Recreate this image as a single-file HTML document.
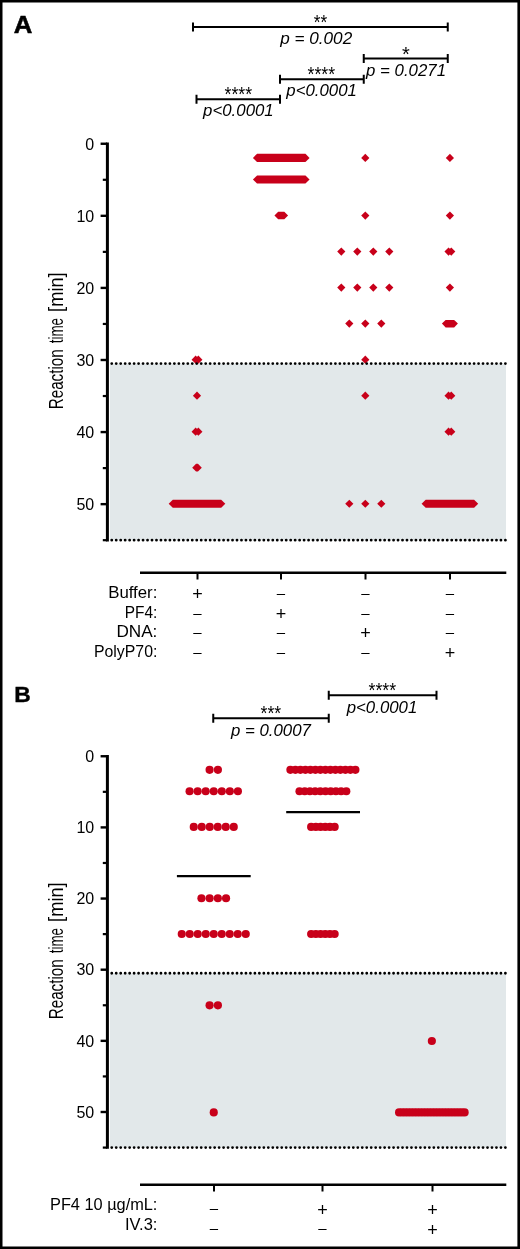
<!DOCTYPE html>
<html lang="en"><head><meta charset="utf-8"><title>Figure</title>
<style>
html,body{margin:0;padding:0;background:#fff;}
body{width:520px;height:1249px;overflow:hidden;}
svg{display:block;}
text{font-family:"Liberation Sans",sans-serif;fill:#000;}
.it{font-style:italic;}
.b{font-weight:bold;}
</style></head><body>
<svg width="520" height="1249" viewBox="0 0 520 1249">
<rect x="0" y="0" width="520" height="1249" fill="#fff"/>
<rect x="110" y="363.59" width="396" height="176.60" fill="#e2e8ea"/>
<path d="M107.4 142.55V541.39" stroke="#000" stroke-width="3" fill="none"/>
<path d="M100.6 143.75H107" stroke="#000" stroke-width="2.4"/>
<text x="94.2" y="149.50" font-size="16" text-anchor="end"  >0</text>
<path d="M102.8 179.79H107" stroke="#000" stroke-width="2.2"/>
<path d="M100.6 215.83H107" stroke="#000" stroke-width="2.4"/>
<text x="94.2" y="221.58" font-size="16" text-anchor="end"  >10</text>
<path d="M102.8 251.87H107" stroke="#000" stroke-width="2.2"/>
<path d="M100.6 287.91H107" stroke="#000" stroke-width="2.4"/>
<text x="94.2" y="293.66" font-size="16" text-anchor="end"  >20</text>
<path d="M102.8 323.95H107" stroke="#000" stroke-width="2.2"/>
<path d="M100.6 359.99H107" stroke="#000" stroke-width="2.4"/>
<text x="94.2" y="365.74" font-size="16" text-anchor="end"  >30</text>
<path d="M102.8 396.03H107" stroke="#000" stroke-width="2.2"/>
<path d="M100.6 432.07H107" stroke="#000" stroke-width="2.4"/>
<text x="94.2" y="437.82" font-size="16" text-anchor="end"  >40</text>
<path d="M102.8 468.11H107" stroke="#000" stroke-width="2.2"/>
<path d="M100.6 504.15H107" stroke="#000" stroke-width="2.4"/>
<text x="94.2" y="509.90" font-size="16" text-anchor="end"  >50</text>
<path d="M102.8 540.19H107" stroke="#000" stroke-width="2.2"/>
<g transform="translate(63.4 408.3) rotate(-90)" font-size="20.5">
<text x="-1.0" y="0" textLength="60.0" lengthAdjust="spacingAndGlyphs">Reaction</text>
<text x="65.0" y="0" textLength="25.4" lengthAdjust="spacingAndGlyphs">time</text>
<text x="96.4" y="0" textLength="39.6" lengthAdjust="spacingAndGlyphs">[min]</text>
</g>
<text x="13.7" y="33.3" font-size="23.1" text-anchor="start" textLength="18.6" lengthAdjust="spacingAndGlyphs" class="b" stroke="#000" stroke-width="0.5" >A</text>
<path d="M193 22.5V31.5M447.75 22.5V31.5M193 27H447.75" stroke="#000" stroke-width="2.0" fill="none"/>
<text x="320.4" y="29.10" font-size="20" text-anchor="middle" textLength="13.4" lengthAdjust="spacingAndGlyphs"  >**</text>
<text x="316.2" y="44.2" font-size="16.5" text-anchor="middle" textLength="72" lengthAdjust="spacingAndGlyphs" class="it" >p = 0.002</text>
<path d="M363.75 54.1V63.1M447.75 54.1V63.1M363.75 58.6H447.75" stroke="#000" stroke-width="2.0" fill="none"/>
<text x="405.8" y="60.70" font-size="20" text-anchor="middle"  >*</text>
<text x="406" y="76.2" font-size="16.5" text-anchor="middle" textLength="80" lengthAdjust="spacingAndGlyphs" class="it" >p = 0.0271</text>
<path d="M280 74.7V83.7M363.75 74.7V83.7M280 79.2H363.75" stroke="#000" stroke-width="2.0" fill="none"/>
<text x="321.3" y="81.30" font-size="20" text-anchor="middle" textLength="27.6" lengthAdjust="spacingAndGlyphs"  >****</text>
<text x="321.6" y="95.6" font-size="16.5" text-anchor="middle" textLength="70.6" lengthAdjust="spacingAndGlyphs" class="it" >p&lt;0.0001</text>
<path d="M196.5 94.8V103.8M280 94.8V103.8M196.5 99.3H280" stroke="#000" stroke-width="2.0" fill="none"/>
<text x="238.3" y="101.40" font-size="20" text-anchor="middle" textLength="27.6" lengthAdjust="spacingAndGlyphs"  >****</text>
<text x="238.4" y="115.8" font-size="16.5" text-anchor="middle" textLength="70.6" lengthAdjust="spacingAndGlyphs" class="it" >p&lt;0.0001</text>
<path d="M191.55 359.65L195.65 355.55L199.75 359.65L195.65 363.75ZM194.25 359.65L198.35 355.55L202.45 359.65L198.35 363.75Z" fill="#c8001a"/>
<path d="M192.90 395.68L197.00 391.57L201.10 395.68L197.00 399.78Z" fill="#c8001a"/>
<path d="M191.55 431.70L195.65 427.60L199.75 431.70L195.65 435.80ZM194.25 431.70L198.35 427.60L202.45 431.70L198.35 435.80Z" fill="#c8001a"/>
<path d="M192.20 467.73L196.30 463.62L200.40 467.73L196.30 471.83ZM193.60 467.73L197.70 463.62L201.80 467.73L197.70 471.83Z" fill="#c8001a"/>
<path d="M168.69 503.75L172.79 499.65H221.21L225.31 503.75L221.21 507.85H172.79Z" fill="#c8001a"/>
<path d="M252.94 157.91L257.04 153.81H305.46L309.56 157.91L305.46 162.01H257.04Z" fill="#c8001a"/>
<path d="M252.94 179.53L257.04 175.43H305.46L309.56 179.53L305.46 183.62H257.04Z" fill="#c8001a"/>
<path d="M274.45 215.55L278.20 211.80H284.30L288.05 215.55L284.30 219.30H278.20Z" fill="#c8001a"/>
<path d="M361.20 157.91L365.30 153.81L369.40 157.91L365.30 162.01Z" fill="#c8001a"/>
<path d="M361.20 215.55L365.30 211.45L369.40 215.55L365.30 219.65Z" fill="#c8001a"/>
<path d="M337.20 251.57L341.30 247.47L345.40 251.57L341.30 255.67ZM353.20 251.57L357.30 247.47L361.40 251.57L357.30 255.67ZM369.20 251.57L373.30 247.47L377.40 251.57L373.30 255.67ZM385.20 251.57L389.30 247.47L393.40 251.57L389.30 255.67Z" fill="#c8001a"/>
<path d="M337.20 287.60L341.30 283.50L345.40 287.60L341.30 291.70ZM353.20 287.60L357.30 283.50L361.40 287.60L357.30 291.70ZM369.20 287.60L373.30 283.50L377.40 287.60L373.30 291.70ZM385.20 287.60L389.30 283.50L393.40 287.60L389.30 291.70Z" fill="#c8001a"/>
<path d="M345.20 323.62L349.30 319.52L353.40 323.62L349.30 327.73ZM361.20 323.62L365.30 319.52L369.40 323.62L365.30 327.73ZM377.20 323.62L381.30 319.52L385.40 323.62L381.30 327.73Z" fill="#c8001a"/>
<path d="M361.20 359.65L365.30 355.55L369.40 359.65L365.30 363.75Z" fill="#c8001a"/>
<path d="M361.20 395.68L365.30 391.57L369.40 395.68L365.30 399.78Z" fill="#c8001a"/>
<path d="M345.20 503.75L349.30 499.65L353.40 503.75L349.30 507.85ZM361.20 503.75L365.30 499.65L369.40 503.75L365.30 507.85ZM377.20 503.75L381.30 499.65L385.40 503.75L381.30 507.85Z" fill="#c8001a"/>
<path d="M445.80 157.91L449.90 153.81L454.00 157.91L449.90 162.01Z" fill="#c8001a"/>
<path d="M445.80 215.55L449.90 211.45L454.00 215.55L449.90 219.65Z" fill="#c8001a"/>
<path d="M444.45 251.57L448.55 247.47L452.65 251.57L448.55 255.67ZM447.15 251.57L451.25 247.47L455.35 251.57L451.25 255.67Z" fill="#c8001a"/>
<path d="M445.80 287.60L449.90 283.50L454.00 287.60L449.90 291.70Z" fill="#c8001a"/>
<path d="M441.90 323.62L445.65 319.88H454.15L457.90 323.62L454.15 327.38H445.65Z" fill="#c8001a"/>
<path d="M444.45 395.68L448.55 391.57L452.65 395.68L448.55 399.78ZM447.15 395.68L451.25 391.57L455.35 395.68L451.25 399.78Z" fill="#c8001a"/>
<path d="M444.45 431.70L448.55 427.60L452.65 431.70L448.55 435.80ZM447.15 431.70L451.25 427.60L455.35 431.70L451.25 435.80Z" fill="#c8001a"/>
<path d="M421.59 503.75L425.69 499.65H474.11L478.21 503.75L474.11 507.85H425.69Z" fill="#c8001a"/>
<path d="M111.75 363.59H505.6" stroke="#000" stroke-width="2.8" stroke-linecap="round" stroke-dasharray="0 4.4733" fill="none"/>
<path d="M111.75 540.19H505.6" stroke="#000" stroke-width="2.8" stroke-linecap="round" stroke-dasharray="0 4.4733" fill="none"/>
<path d="M140 572.8H506.3" stroke="#000" stroke-width="2.5"/>
<path d="M197.5 572.8V579.5" stroke="#000" stroke-width="2"/>
<path d="M281 572.8V579.5" stroke="#000" stroke-width="2"/>
<path d="M365.5 572.8V579.5" stroke="#000" stroke-width="2"/>
<path d="M450 572.8V579.5" stroke="#000" stroke-width="2"/>
<text x="157.4" y="598.4" font-size="15.7" text-anchor="end" textLength="49.2" lengthAdjust="spacingAndGlyphs"  >Buffer:</text>
<text x="197.5" y="599.90" font-size="18" text-anchor="middle"  >+</text>
<text x="281" y="597.90" font-size="15" text-anchor="middle"  >–</text>
<text x="365.5" y="597.90" font-size="15" text-anchor="middle"  >–</text>
<text x="450" y="597.90" font-size="15" text-anchor="middle"  >–</text>
<text x="157.4" y="618.0" font-size="15.7" text-anchor="end" textLength="32.6" lengthAdjust="spacingAndGlyphs"  >PF4:</text>
<text x="197.5" y="617.50" font-size="15" text-anchor="middle"  >–</text>
<text x="281" y="619.50" font-size="18" text-anchor="middle"  >+</text>
<text x="365.5" y="617.50" font-size="15" text-anchor="middle"  >–</text>
<text x="450" y="617.50" font-size="15" text-anchor="middle"  >–</text>
<text x="157.4" y="637.4" font-size="15.7" text-anchor="end" textLength="41.0" lengthAdjust="spacingAndGlyphs"  >DNA:</text>
<text x="197.5" y="636.90" font-size="15" text-anchor="middle"  >–</text>
<text x="281" y="636.90" font-size="15" text-anchor="middle"  >–</text>
<text x="365.5" y="638.90" font-size="18" text-anchor="middle"  >+</text>
<text x="450" y="636.90" font-size="15" text-anchor="middle"  >–</text>
<text x="157.4" y="657.3" font-size="15.7" text-anchor="end" textLength="63.5" lengthAdjust="spacingAndGlyphs"  >PolyP70:</text>
<text x="197.5" y="656.80" font-size="15" text-anchor="middle"  >–</text>
<text x="281" y="656.80" font-size="15" text-anchor="middle"  >–</text>
<text x="365.5" y="656.80" font-size="15" text-anchor="middle"  >–</text>
<text x="450" y="658.80" font-size="18" text-anchor="middle"  >+</text>
<rect x="110" y="973.26" width="396" height="174.32" fill="#e2e8ea"/>
<path d="M107.4 755.05V1148.78" stroke="#000" stroke-width="3" fill="none"/>
<path d="M100.6 756.25H107" stroke="#000" stroke-width="2.4"/>
<text x="94.2" y="762.00" font-size="16" text-anchor="end"  >0</text>
<path d="M102.8 791.83H107" stroke="#000" stroke-width="2.2"/>
<path d="M100.6 827.40H107" stroke="#000" stroke-width="2.4"/>
<text x="94.2" y="833.15" font-size="16" text-anchor="end"  >10</text>
<path d="M102.8 862.98H107" stroke="#000" stroke-width="2.2"/>
<path d="M100.6 898.55H107" stroke="#000" stroke-width="2.4"/>
<text x="94.2" y="904.30" font-size="16" text-anchor="end"  >20</text>
<path d="M102.8 934.12H107" stroke="#000" stroke-width="2.2"/>
<path d="M100.6 969.70H107" stroke="#000" stroke-width="2.4"/>
<text x="94.2" y="975.45" font-size="16" text-anchor="end"  >30</text>
<path d="M102.8 1005.27H107" stroke="#000" stroke-width="2.2"/>
<path d="M100.6 1040.85H107" stroke="#000" stroke-width="2.4"/>
<text x="94.2" y="1046.60" font-size="16" text-anchor="end"  >40</text>
<path d="M102.8 1076.42H107" stroke="#000" stroke-width="2.2"/>
<path d="M100.6 1112.00H107" stroke="#000" stroke-width="2.4"/>
<text x="94.2" y="1117.75" font-size="16" text-anchor="end"  >50</text>
<path d="M102.8 1147.58H107" stroke="#000" stroke-width="2.2"/>
<g transform="translate(63.4 1018.3) rotate(-90)" font-size="20.5">
<text x="-1.0" y="0" textLength="60.0" lengthAdjust="spacingAndGlyphs">Reaction</text>
<text x="65.0" y="0" textLength="25.4" lengthAdjust="spacingAndGlyphs">time</text>
<text x="96.4" y="0" textLength="39.6" lengthAdjust="spacingAndGlyphs">[min]</text>
</g>
<text x="14.3" y="701.8" font-size="22.8" text-anchor="start" class="b" stroke="#000" stroke-width="0.4" >B</text>
<path d="M213.25 713.75V722.75M328.75 713.75V722.75M213.25 718.25H328.75" stroke="#000" stroke-width="2.0" fill="none"/>
<text x="270.9" y="720.35" font-size="20" text-anchor="middle" textLength="20.6" lengthAdjust="spacingAndGlyphs"  >***</text>
<text x="270.9" y="735.6" font-size="16.5" text-anchor="middle" textLength="80" lengthAdjust="spacingAndGlyphs" class="it" >p = 0.0007</text>
<path d="M328.75 690.8V699.8M436.5 690.8V699.8M328.75 695.3H436.5" stroke="#000" stroke-width="2.0" fill="none"/>
<text x="382.3" y="697.40" font-size="20" text-anchor="middle" textLength="27.6" lengthAdjust="spacingAndGlyphs"  >****</text>
<text x="382" y="712.6" font-size="16.5" text-anchor="middle" textLength="70.6" lengthAdjust="spacingAndGlyphs" class="it" >p&lt;0.0001</text>
<circle cx="209.60" cy="769.82" r="4.08" fill="#c8001a"/>
<circle cx="217.90" cy="769.82" r="4.08" fill="#c8001a"/>
<circle cx="189.60" cy="791.23" r="4.08" fill="#c8001a"/>
<circle cx="197.65" cy="791.23" r="4.08" fill="#c8001a"/>
<circle cx="205.70" cy="791.23" r="4.08" fill="#c8001a"/>
<circle cx="213.75" cy="791.23" r="4.08" fill="#c8001a"/>
<circle cx="221.80" cy="791.23" r="4.08" fill="#c8001a"/>
<circle cx="229.85" cy="791.23" r="4.08" fill="#c8001a"/>
<circle cx="237.90" cy="791.23" r="4.08" fill="#c8001a"/>
<circle cx="193.75" cy="826.91" r="4.08" fill="#c8001a"/>
<circle cx="201.75" cy="826.91" r="4.08" fill="#c8001a"/>
<circle cx="209.75" cy="826.91" r="4.08" fill="#c8001a"/>
<circle cx="217.75" cy="826.91" r="4.08" fill="#c8001a"/>
<circle cx="225.75" cy="826.91" r="4.08" fill="#c8001a"/>
<circle cx="233.75" cy="826.91" r="4.08" fill="#c8001a"/>
<circle cx="201.45" cy="898.28" r="4.08" fill="#c8001a"/>
<circle cx="209.65" cy="898.28" r="4.08" fill="#c8001a"/>
<circle cx="217.85" cy="898.28" r="4.08" fill="#c8001a"/>
<circle cx="226.05" cy="898.28" r="4.08" fill="#c8001a"/>
<circle cx="181.75" cy="933.96" r="4.08" fill="#c8001a"/>
<circle cx="189.75" cy="933.96" r="4.08" fill="#c8001a"/>
<circle cx="197.75" cy="933.96" r="4.08" fill="#c8001a"/>
<circle cx="205.75" cy="933.96" r="4.08" fill="#c8001a"/>
<circle cx="213.75" cy="933.96" r="4.08" fill="#c8001a"/>
<circle cx="221.75" cy="933.96" r="4.08" fill="#c8001a"/>
<circle cx="229.75" cy="933.96" r="4.08" fill="#c8001a"/>
<circle cx="237.75" cy="933.96" r="4.08" fill="#c8001a"/>
<circle cx="245.75" cy="933.96" r="4.08" fill="#c8001a"/>
<circle cx="209.60" cy="1005.33" r="4.08" fill="#c8001a"/>
<circle cx="217.90" cy="1005.33" r="4.08" fill="#c8001a"/>
<circle cx="213.75" cy="1112.38" r="4.08" fill="#c8001a"/>
<path d="M176.9 876.1H250.7" stroke="#000" stroke-width="2.1"/>
<circle cx="290.40" cy="769.82" r="4.08" fill="#c8001a"/>
<circle cx="295.40" cy="769.82" r="4.08" fill="#c8001a"/>
<circle cx="300.40" cy="769.82" r="4.08" fill="#c8001a"/>
<circle cx="305.40" cy="769.82" r="4.08" fill="#c8001a"/>
<circle cx="310.40" cy="769.82" r="4.08" fill="#c8001a"/>
<circle cx="315.40" cy="769.82" r="4.08" fill="#c8001a"/>
<circle cx="320.40" cy="769.82" r="4.08" fill="#c8001a"/>
<circle cx="325.40" cy="769.82" r="4.08" fill="#c8001a"/>
<circle cx="330.40" cy="769.82" r="4.08" fill="#c8001a"/>
<circle cx="335.40" cy="769.82" r="4.08" fill="#c8001a"/>
<circle cx="340.40" cy="769.82" r="4.08" fill="#c8001a"/>
<circle cx="345.40" cy="769.82" r="4.08" fill="#c8001a"/>
<circle cx="350.40" cy="769.82" r="4.08" fill="#c8001a"/>
<circle cx="355.40" cy="769.82" r="4.08" fill="#c8001a"/>
<circle cx="299.50" cy="791.23" r="4.08" fill="#c8001a"/>
<circle cx="304.70" cy="791.23" r="4.08" fill="#c8001a"/>
<circle cx="309.90" cy="791.23" r="4.08" fill="#c8001a"/>
<circle cx="315.10" cy="791.23" r="4.08" fill="#c8001a"/>
<circle cx="320.30" cy="791.23" r="4.08" fill="#c8001a"/>
<circle cx="325.50" cy="791.23" r="4.08" fill="#c8001a"/>
<circle cx="330.70" cy="791.23" r="4.08" fill="#c8001a"/>
<circle cx="335.90" cy="791.23" r="4.08" fill="#c8001a"/>
<circle cx="341.10" cy="791.23" r="4.08" fill="#c8001a"/>
<circle cx="346.30" cy="791.23" r="4.08" fill="#c8001a"/>
<circle cx="311.15" cy="826.91" r="4.08" fill="#c8001a"/>
<circle cx="315.85" cy="826.91" r="4.08" fill="#c8001a"/>
<circle cx="320.55" cy="826.91" r="4.08" fill="#c8001a"/>
<circle cx="325.25" cy="826.91" r="4.08" fill="#c8001a"/>
<circle cx="329.95" cy="826.91" r="4.08" fill="#c8001a"/>
<circle cx="334.65" cy="826.91" r="4.08" fill="#c8001a"/>
<circle cx="311.15" cy="933.96" r="4.08" fill="#c8001a"/>
<circle cx="315.85" cy="933.96" r="4.08" fill="#c8001a"/>
<circle cx="320.55" cy="933.96" r="4.08" fill="#c8001a"/>
<circle cx="325.25" cy="933.96" r="4.08" fill="#c8001a"/>
<circle cx="329.95" cy="933.96" r="4.08" fill="#c8001a"/>
<circle cx="334.65" cy="933.96" r="4.08" fill="#c8001a"/>
<path d="M286.2 812.1H360" stroke="#000" stroke-width="2.1"/>
<circle cx="431.85" cy="1041.01" r="4.08" fill="#c8001a"/>
<circle cx="399.07" cy="1112.38" r="4.08" fill="#c8001a"/>
<circle cx="402.05" cy="1112.38" r="4.08" fill="#c8001a"/>
<circle cx="405.03" cy="1112.38" r="4.08" fill="#c8001a"/>
<circle cx="408.01" cy="1112.38" r="4.08" fill="#c8001a"/>
<circle cx="410.99" cy="1112.38" r="4.08" fill="#c8001a"/>
<circle cx="413.97" cy="1112.38" r="4.08" fill="#c8001a"/>
<circle cx="416.95" cy="1112.38" r="4.08" fill="#c8001a"/>
<circle cx="419.93" cy="1112.38" r="4.08" fill="#c8001a"/>
<circle cx="422.91" cy="1112.38" r="4.08" fill="#c8001a"/>
<circle cx="425.89" cy="1112.38" r="4.08" fill="#c8001a"/>
<circle cx="428.87" cy="1112.38" r="4.08" fill="#c8001a"/>
<circle cx="431.85" cy="1112.38" r="4.08" fill="#c8001a"/>
<circle cx="434.83" cy="1112.38" r="4.08" fill="#c8001a"/>
<circle cx="437.81" cy="1112.38" r="4.08" fill="#c8001a"/>
<circle cx="440.79" cy="1112.38" r="4.08" fill="#c8001a"/>
<circle cx="443.77" cy="1112.38" r="4.08" fill="#c8001a"/>
<circle cx="446.75" cy="1112.38" r="4.08" fill="#c8001a"/>
<circle cx="449.73" cy="1112.38" r="4.08" fill="#c8001a"/>
<circle cx="452.71" cy="1112.38" r="4.08" fill="#c8001a"/>
<circle cx="455.69" cy="1112.38" r="4.08" fill="#c8001a"/>
<circle cx="458.67" cy="1112.38" r="4.08" fill="#c8001a"/>
<circle cx="461.65" cy="1112.38" r="4.08" fill="#c8001a"/>
<circle cx="464.63" cy="1112.38" r="4.08" fill="#c8001a"/>
<path d="M111.75 973.26H505.6" stroke="#000" stroke-width="2.8" stroke-linecap="round" stroke-dasharray="0 4.4733" fill="none"/>
<path d="M111.75 1147.58H505.6" stroke="#000" stroke-width="2.8" stroke-linecap="round" stroke-dasharray="0 4.4733" fill="none"/>
<path d="M140 1184.65H506.3" stroke="#000" stroke-width="2.5"/>
<path d="M214 1184.65V1191.5" stroke="#000" stroke-width="2"/>
<path d="M322.5 1184.65V1191.5" stroke="#000" stroke-width="2"/>
<path d="M432.5 1184.65V1191.5" stroke="#000" stroke-width="2"/>
<text x="157.4" y="1210.2" font-size="16" text-anchor="end" textLength="107.4" lengthAdjust="spacingAndGlyphs"  >PF4 10 µg/mL:</text>
<text x="157.4" y="1230.0" font-size="16" text-anchor="end" textLength="32.4" lengthAdjust="spacingAndGlyphs"  >IV.3:</text>
<text x="214" y="1213.20" font-size="15" text-anchor="middle"  >–</text>
<text x="322.5" y="1215.90" font-size="18" text-anchor="middle"  >+</text>
<text x="432.5" y="1215.90" font-size="18" text-anchor="middle"  >+</text>
<text x="214" y="1233.00" font-size="15" text-anchor="middle"  >–</text>
<text x="322.5" y="1233.00" font-size="15" text-anchor="middle"  >–</text>
<text x="432.5" y="1235.70" font-size="18" text-anchor="middle"  >+</text>
<path d="M0 0H520V1249H0Z M2.5 2.4V1246.4H517.4V2.4Z" fill="#000" fill-rule="evenodd"/>
</svg></body></html>
